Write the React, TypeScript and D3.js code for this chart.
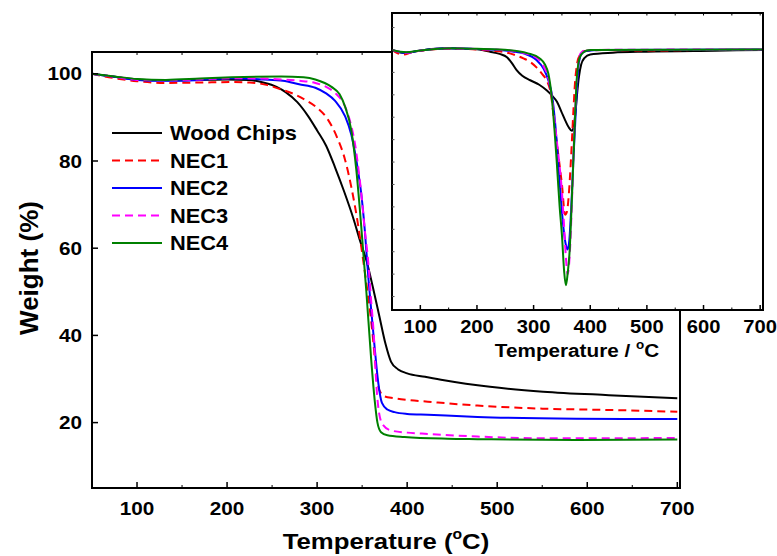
import { useEffect, useRef } from 'react'
import * as d3 from 'd3'

type Pt = [number, number]

const tempTicks = [100, 200, 300, 400, 500, 600, 700]
const weightTicks = [20, 40, 60, 80, 100]
const seriesNames = ['Wood Chips', 'NEC1', 'NEC2', 'NEC3', 'NEC4']

// TGA curves: [temperature °C, weight %]
const woodChipsTga: Pt[] = [[50, 100], [75, 99.3], [100, 98.7], [130, 98.5], [170, 98.6], [200, 98.7], [224, 98.6], [240, 98.0], [255, 97.0], [265, 95.8], [278, 93.5], [290, 90.3], [300, 87], [310, 83.5], [320, 78.5], [330, 73], [340, 67], [348, 61.5], [355, 57], [362, 51], [369, 44.5], [376, 38], [382, 34], [390, 32.2], [400, 31.3], [420, 30.5], [441, 29.7], [492, 28.2], [551, 27.1], [624, 26.3], [700, 25.6]]
const nec1Tga: Pt[] = [[50, 100], [75, 99], [100, 98.3], [130, 97.9], [170, 98], [205, 98.1], [225, 98], [245, 97.4], [260, 96.4], [275, 95.3], [287, 94], [300, 92.2], [312, 89.5], [322, 85.5], [331, 80.3], [338, 74], [345, 66], [351, 57.5], [356, 50], [361, 41.5], [365, 33], [369, 27.5], [375, 26], [385, 25.6], [400, 25.2], [423, 24.8], [478, 23.9], [551, 23.2], [624, 22.9], [700, 22.5]]
const nec2Tga: Pt[] = [[50, 100], [75, 99.3], [100, 98.6], [130, 98.4], [170, 98.6], [205, 99.0], [240, 98.7], [262, 98.4], [280, 97.6], [298, 96.8], [310, 95.5], [320, 93.8], [331, 90.3], [338, 86], [342, 82], [346, 77], [349, 72.5], [353, 64], [357, 53], [360, 46], [364, 37], [368, 29], [372, 24.5], [378, 23], [386, 22.4], [400, 22], [423, 21.8], [478, 21.3], [588, 20.9], [700, 20.8]]
const nec3Tga: Pt[] = [[50, 100], [75, 99.3], [100, 98.6], [130, 98.5], [170, 98.7], [205, 99.0], [240, 98.9], [262, 98.7], [280, 98.4], [298, 97.9], [310, 97], [320, 95.6], [332, 92], [338, 88], [342, 84], [346, 78], [349, 72.7], [353, 64], [356.5, 57.5], [360, 48], [363, 40], [366, 28], [369, 22], [373, 19.5], [382, 18.2], [400, 17.7], [423, 17.4], [478, 16.8], [551, 16.4], [624, 16.4], [700, 16.5]]
const nec4Tga: Pt[] = [[50, 100], [75, 99.4], [100, 98.8], [132, 98.6], [170, 98.9], [205, 99.2], [260, 99.4], [285, 99.2], [298, 98.7], [316, 97], [325, 95.3], [331, 92.5], [338, 87], [343.5, 78], [349, 65], [354.7, 50], [360, 34.6], [364, 25], [367, 20], [371, 17.8], [378, 17.1], [397, 16.7], [445, 16.3], [478, 16.2], [588, 16.0], [700, 16.1]]

// DTG curves for the inset: [temperature °C, dW/dT]
const woodChipsDtg: Pt[] = [[50, 0], [62, -0.02], [75, -0.025], [95, -0.01], [120, 0.008], [150, 0.015], [180, 0.012], [200, 0.006], [223, -0.015], [240, -0.035], [253, -0.065], [262, -0.12], [270, -0.18], [280, -0.23], [294, -0.27], [310, -0.31], [323, -0.36], [333, -0.41], [341, -0.46], [349, -0.55], [356, -0.63], [362, -0.69], [367.5, -0.72], [371, -0.68], [374, -0.55], [377, -0.38], [380, -0.24], [384, -0.13], [390, -0.07], [400, -0.04], [440, -0.024], [500, -0.015], [620, -0.006], [705, 0]]
const nec1Dtg: Pt[] = [[50, 0], [60, -0.03], [70, -0.04], [85, -0.02], [120, 0.005], [150, 0.012], [200, 0.004], [223, -0.006], [245, -0.015], [258, -0.03], [270, -0.05], [282, -0.075], [295, -0.11], [306, -0.16], [316, -0.22], [323, -0.27], [330, -0.38], [338, -0.71], [344, -0.95], [350, -1.2], [355.6, -1.47], [359, -1.44], [362, -1.3], [365.6, -1.01], [370, -0.57], [373, -0.3], [376, -0.15], [381, -0.05], [390, -0.01], [420, 0], [500, -0.005], [600, 0], [705, 0.002]]
const nec2Dtg: Pt[] = [[50, 0], [75, -0.025], [100, -0.005], [150, 0.015], [200, 0.008], [240, 0], [265, -0.015], [285, -0.035], [305, -0.09], [318, -0.17], [326, -0.27], [333, -0.42], [338, -0.65], [344, -1.04], [349, -1.38], [353, -1.6], [357, -1.74], [360, -1.78], [363, -1.7], [367, -1.35], [370, -1.0], [373, -0.7], [376, -0.38], [379, -0.15], [384, -0.04], [392, -0.01], [420, 0], [705, 0.005]]
const nec3Dtg: Pt[] = [[50, 0], [75, -0.025], [100, -0.005], [150, 0.015], [200, 0.008], [240, 0.002], [265, -0.01], [285, -0.03], [305, -0.07], [318, -0.15], [326, -0.25], [333, -0.45], [338, -0.68], [344, -0.95], [349, -1.2], [353, -1.5], [357, -1.85], [360, -2.0], [362, -1.95], [364.5, -1.76], [367, -1.45], [369, -1.16], [371, -0.85], [373.3, -0.56], [376, -0.3], [379, -0.12], [383, -0.03], [392, 0], [705, 0.005]]
const nec4Dtg: Pt[] = [[50, 0], [75, -0.02], [100, -0.005], [150, 0.015], [200, 0.01], [240, 0.005], [270, -0.01], [290, -0.03], [311, -0.075], [320, -0.13], [326, -0.21], [332, -0.42], [337, -0.72], [341, -1.01], [346, -1.4], [350, -1.65], [354, -1.98], [357, -2.1], [360, -2.0], [364, -1.76], [367, -1.4], [370, -1.01], [373, -0.62], [376, -0.27], [379, -0.12], [382, -0.06], [388, -0.02], [400, 0], [705, 0.005]]

const colors = ['#000000', '#ff0000', '#0000ff', '#ff00ff', '#008000']
const dashes = [null, '8,5', null, '8,5', null]

const SX = 1.12 // the original figure is stretched horizontally

export default function App() {
  const svgRef = useRef<SVGSVGElement>(null)

  useEffect(() => {
    if (!svgRef.current) return
    const svg = d3.select(svgRef.current)
    svg.selectAll('*').remove()

    const tga = [woodChipsTga, nec1Tga, nec2Tga, nec3Tga, nec4Tga]
    const dtg = [woodChipsDtg, nec1Dtg, nec2Dtg, nec3Dtg, nec4Dtg]

    const text = (g: any, s: string, x: number, y: number, size: number, anchor = 'middle') =>
      g.append('text')
        .attr('transform', `translate(${x},${y}) scale(${SX},1)`)
        .attr('text-anchor', anchor)
        .attr('font-size', size)
        .text(s)

    // ---- main plot
    const x = d3.scaleLinear().domain([50, 703]).range([92, 680])
    const y = d3.scaleLinear().domain([5, 105]).range([488, 52])
    const main = svg.append('g')

    const line = d3.line<Pt>().x(d => x(d[0])).y(d => y(d[1])).curve(d3.curveMonotoneX)
    tga.forEach((data, i) => {
      main.append('path')
        .datum(data)
        .attr('fill', 'none')
        .attr('stroke', colors[i])
        .attr('stroke-width', 2)
        .attr('stroke-dasharray', dashes[i])
        .attr('d', line)
    })

    main.append('rect')
      .attr('x', 92).attr('y', 52).attr('width', 588).attr('height', 436)
      .attr('fill', 'none').attr('stroke', '#000').attr('stroke-width', 2)

    // bottom and top ticks
    d3.range(100, 701, 50).forEach(t => {
      const major = t % 100 === 0
      main.append('line').attr('x1', x(t)).attr('x2', x(t))
        .attr('y1', 488).attr('y2', 488 - (major ? 6 : 3))
        .attr('stroke', '#000').attr('stroke-width', major ? 1.5 : 1)
      main.append('line').attr('x1', x(t)).attr('x2', x(t))
        .attr('y1', 52).attr('y2', 52 + 3)
        .attr('stroke', '#000').attr('stroke-width', 1)
    })
    tempTicks.forEach(t => text(main, String(t), x(t), 515, 18.5))

    weightTicks.forEach(w => {
      main.append('line').attr('x1', 92).attr('x2', 98)
        .attr('y1', y(w)).attr('y2', y(w))
        .attr('stroke', '#000').attr('stroke-width', 1.5)
      text(main, String(w), 82, y(w) + 6.5, 18.5, 'end')
    })

    const xt = main.append('text')
      .attr('transform', `translate(386,549) scale(${SX},1)`)
      .attr('text-anchor', 'middle').attr('font-size', 23)
    xt.append('tspan').text('Temperature (')
    xt.append('tspan').attr('font-size', 14).attr('dy', -10).text('o')
    xt.append('tspan').attr('dy', 10).text('C)')

    main.append('text')
      .attr('transform', 'translate(38,268) rotate(-90)')
      .attr('text-anchor', 'middle').attr('font-size', 26)
      .text('Weight (%)')

    // legend
    seriesNames.forEach((name, i) => {
      const ly = 133 + i * 27.5
      main.append('line').attr('x1', 112).attr('x2', 162).attr('y1', ly).attr('y2', ly)
        .attr('stroke', colors[i]).attr('stroke-width', 2)
        .attr('stroke-dasharray', dashes[i])
      text(main, name, 170, ly + 7, 19.5, 'start')
    })

    // ---- inset (DTG)
    const ix = d3.scaleLinear().domain([50, 705]).range([392, 763])
    const iy = d3.scaleLinear().domain([-2.32, 0.33]).range([310, 13])
    const inset = svg.append('g')
    inset.append('rect')
      .attr('x', 392).attr('y', 13).attr('width', 371).attr('height', 297)
      .attr('fill', '#fff')

    const iline = d3.line<Pt>().x(d => ix(d[0])).y(d => iy(d[1])).curve(d3.curveMonotoneX)
    dtg.forEach((data, i) => {
      inset.append('path')
        .datum(data)
        .attr('fill', 'none')
        .attr('stroke', colors[i])
        .attr('stroke-width', 2)
        .attr('stroke-dasharray', dashes[i])
        .attr('d', iline)
    })

    inset.append('rect')
      .attr('x', 392).attr('y', 13).attr('width', 371).attr('height', 297)
      .attr('fill', 'none').attr('stroke', '#000').attr('stroke-width', 2)

    d3.range(100, 701, 50).forEach(t => {
      const major = t % 100 === 0
      inset.append('line').attr('x1', ix(t)).attr('x2', ix(t))
        .attr('y1', 310).attr('y2', 310 - (major ? 5 : 2.5))
        .attr('stroke', '#000').attr('stroke-width', major ? 1.5 : 1)
      inset.append('line').attr('x1', ix(t)).attr('x2', ix(t))
        .attr('y1', 13).attr('y2', 15.5)
        .attr('stroke', '#000').attr('stroke-width', 1)
    })
    d3.range(-2.2, 0.25, 0.2).forEach(v => {
      inset.append('line').attr('x1', 392).attr('x2', 394.5)
        .attr('y1', iy(v)).attr('y2', iy(v))
        .attr('stroke', '#555').attr('stroke-width', 1)
    })
    tempTicks.forEach(t => text(inset, String(t), ix(t), 333, 18))

    const it = inset.append('text')
      .attr('transform', `translate(577,357) scale(${SX},1)`)
      .attr('text-anchor', 'middle').attr('font-size', 18.5)
    it.append('tspan').text('Temperature / ')
    it.append('tspan').attr('font-size', 12).attr('dy', -8).text('o')
    it.append('tspan').attr('dy', 8).text('C')
  }, [])

  return (
    <div style={{ position: 'absolute', left: 0, top: 0 }}>
      <svg
        ref={svgRef}
        width={777}
        height={556}
        style={{ display: 'block', background: '#fff', fontFamily: '"Liberation Sans", Arial, sans-serif', fontWeight: 'bold' }}
      />
    </div>
  )
}
